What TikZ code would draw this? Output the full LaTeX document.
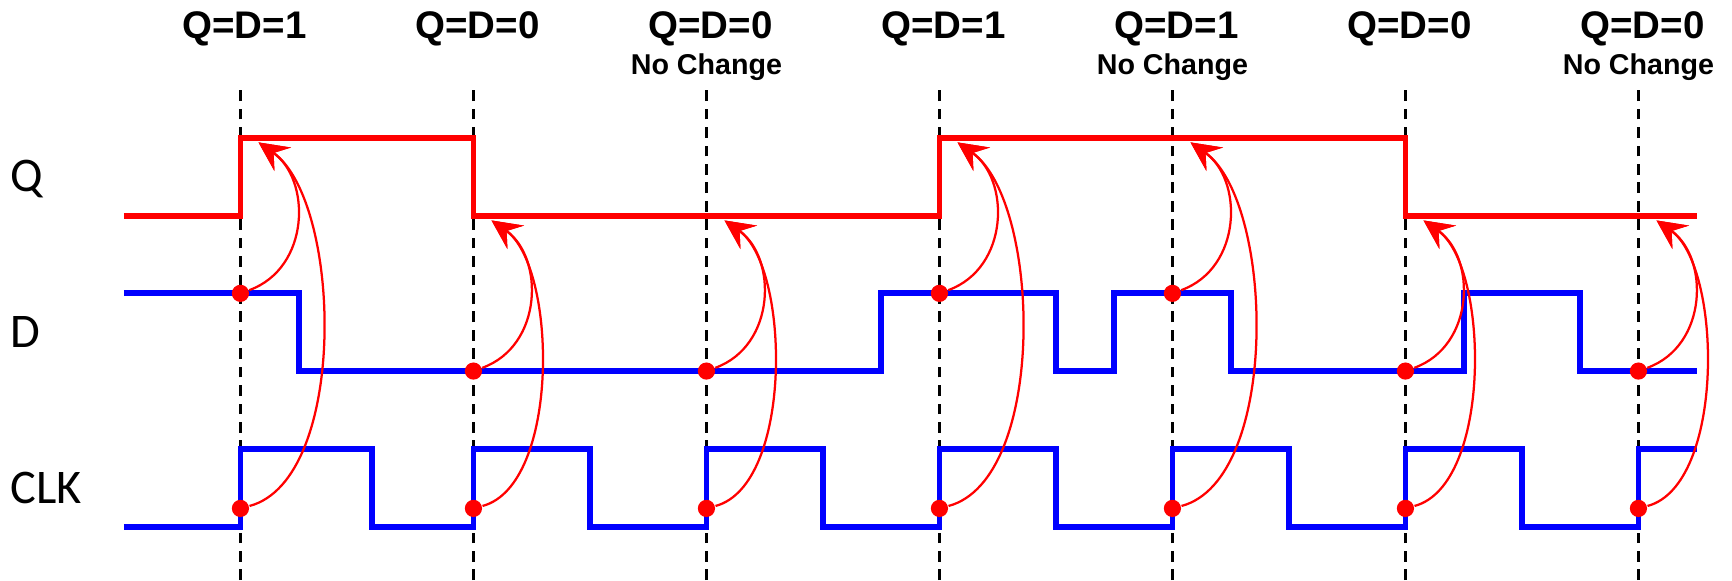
\documentclass[tikz,border=0pt]{standalone}
\usepackage{fontspec}
\setmainfont{Liberation Sans}
\newfontfamily\tracefont{Carlito}
\usetikzlibrary{arrows.meta}

% low/high levels of the three traces
\def\qlo{3.127} \def\qhi{3.797}
\def\dlo{1.794} \def\dhi{2.461}
\def\clklo{0.457} \def\clkhi{1.124}
\colorlet{data line}{blue}
\colorlet{output line}{red}
\tikzset{signal/.style={line width=1.4pt},
    guide/.style={black, line width=0.6pt, dash pattern=on 2.6pt off 1.9pt},
    sample/.style={circle, fill=red, inner sep=0pt, minimum size=4.2pt},
    capture/.style={red, line width=0.55pt, -{Stealth[length=7.2pt,width=7pt,inset=2.7pt]}},
    edgelabel/.style={font=\bfseries\fontsize{9.4}{11}\selectfont, anchor=base, inner sep=0pt},
    notelabel/.style={font=\bfseries\fontsize{7}{8}\selectfont, anchor=base, inner sep=0pt},
    tracelabel/.style={font=\tracefont\fontsize{11.8}{14}\selectfont, anchor=base west, inner sep=0pt}}

\begin{document}
\begin{tikzpicture}
    \useasboundingbox (-2.064,0) rectangle (12.803,4.979);
    % one guide per rising clock edge
    \foreach \t in {0,2,...,12}
        \draw[guide] (\t,0) -- (\t,4.234);

    \node[tracelabel] (qname) at (-1.98,3.339) {Q};
    \node[tracelabel] (dname) at (-1.98,2.0) {D};
    \node[tracelabel] (clkname) at (-1.98,0.661) {CLK};

    \draw[signal, output line] (-1,\qlo) -- (0,\qlo) -- (0,\qhi) -- (2,\qhi) -- (2,\qlo)
        -- (6,\qlo) -- (6,\qhi) -- (10,\qhi) -- (10,\qlo) -- (12.5,\qlo);
    \draw[signal, data line] (-1,\dhi) -- (0.5,\dhi) -- (0.5,\dlo) -- (5.5,\dlo) -- (5.5,\dhi)
        -- (7,\dhi) -- (7,\dlo) -- (7.5,\dlo) -- (7.5,\dhi) -- (8.5,\dhi) -- (8.5,\dlo)
        -- (10.5,\dlo) -- (10.5,\dhi) -- (11.5,\dhi) -- (11.5,\dlo) -- (12.5,\dlo);
    \draw[signal, data line] (-1,\clklo) -- (0,\clklo) -- (0,\clkhi) -- (1.13,\clkhi) -- (1.13,\clklo)
        -- (2,\clklo) -- (2,\clkhi) -- (3,\clkhi) -- (3,\clklo)
        -- (4,\clklo) -- (4,\clkhi) -- (5,\clkhi) -- (5,\clklo)
        -- (6,\clklo) -- (6,\clkhi) -- (7,\clkhi) -- (7,\clklo)
        -- (8,\clklo) -- (8,\clkhi) -- (9,\clkhi) -- (9,\clklo)
        -- (10,\clklo) -- (10,\clkhi) -- (11,\clkhi) -- (11,\clklo)
        -- (12,\clklo) -- (12,\clkhi) -- (12.5,\clkhi);

    % D is sampled on each rising edge and copied to Q
    \foreach \t/\dlev/\qlev/\val in {0/\dhi/\qhi/1, 2/\dlo/\qlo/0, 4/\dlo/\qlo/0, 6/\dhi/\qhi/1,
                                     8/\dhi/\qhi/1, 10/\dlo/\qlo/0, 12/\dlo/\qlo/0} {
        \node[edgelabel] (lab\t) at (\t+0.035,4.652) {Q=D=\val};
        \node[sample] (d\t) at (\t,\dlev) {};
        \node[sample] (c\t) at (\t,0.615) {};
        \coordinate (q\t) at (\t+0.155,\qlev-0.04);
        \draw[capture] (d\t) to[out=20,in=-35,looseness=1.12] (q\t);
        \draw[capture] (c\t) to[out=15,in=-35,looseness=0.72] (q\t);
    }
    \foreach \t in {4,8,12}
        \node[notelabel] (note\t) at (\t,4.343) {No Change};
\end{tikzpicture}
\end{document}
